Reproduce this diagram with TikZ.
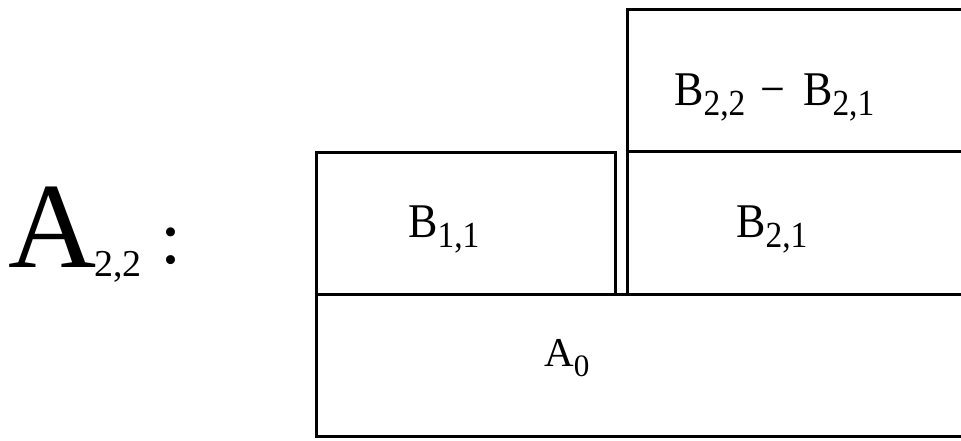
\documentclass[tikz,border=0pt]{standalone}
\usepackage{fontspec}
\setmainfont{Liberation Serif}
\newcommand\lowsub[2][0.21em]{\raisebox{-#1}{\scalebox{0.76}{#2}}}
\newcommand\tall[1]{\scalebox{1}[1.1]{#1}}
\begin{document}
\begin{tikzpicture}[x=1pt,y=-1pt,
  cell/.style={line width=3pt,line cap=rect},
  lbl/.style={inner sep=0pt,anchor=base west,font=\fontsize{44}{50}\selectfont},
  lblsmall/.style={inner sep=0pt,anchor=base west,font=\fontsize{41}{46}\selectfont}]
\useasboundingbox (0,0) rectangle (961,440);
% boxes (open to the right edge)
\draw[cell] (968,9) -- (627,9) -- (627,294);
\draw[cell] (627,151) -- (968,151);
\draw[cell] (968,294) -- (316,294) -- (316,436) -- (968,436);
\draw[cell] (316,294) -- (316,152) -- (615,152) -- (615,294);
% labels
\node[lbl] (t1) at (674,105) {\tall{B\lowsub{2,2}\hspace{15pt}−\hspace{18pt}B\lowsub{2,1}}};
\node[lbl] (t2) at (408,237) {\tall{B\lowsub{1,1}}};
\node[lbl] (t3) at (736,237) {\tall{B\lowsub{2,1}}};
\node[lblsmall] (t4) at (544,366) {A\lowsub[0.25em]{0}};
\node[inner sep=0pt,anchor=base west,font=\fontsize{122}{130}\selectfont] (big) at (8,267)
  {A\hspace{-2pt}\raisebox{-0.08em}{\fontsize{38}{44}\selectfont 2,2}\hspace{19pt}\raisebox{0.03em}{\fontsize{76}{90}\selectfont :}};
\end{tikzpicture}
\end{document}
